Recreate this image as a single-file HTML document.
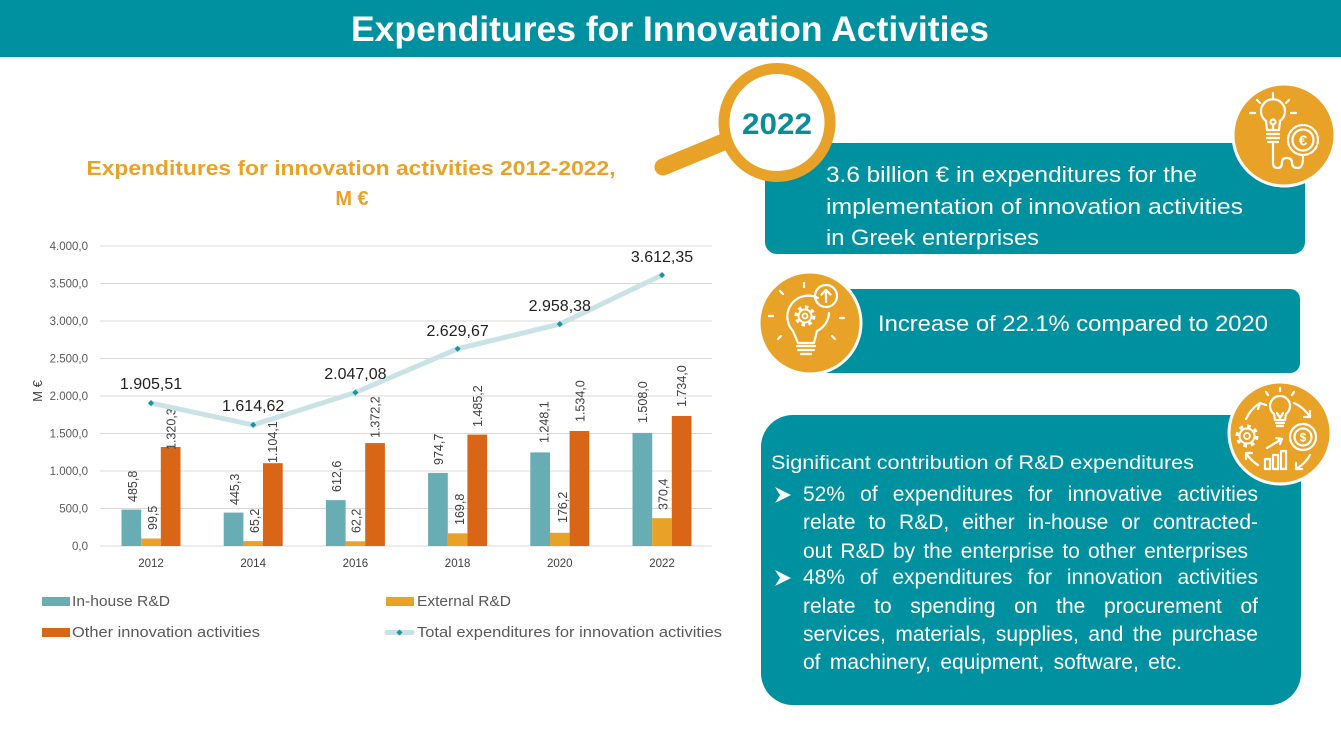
<!DOCTYPE html>
<html><head><meta charset="utf-8">
<style>
html,body{margin:0;padding:0;background:#fff;}
body{width:1341px;height:730px;position:relative;overflow:hidden;font-family:"Liberation Sans",sans-serif;}
svg{position:absolute;left:0;top:0;}
.j{position:absolute;left:803px;width:455px;font-size:21px;line-height:28px;height:28px;color:#fff;text-align:justify;text-align-last:justify;font-family:"Liberation Sans",sans-serif;white-space:normal;}
</style></head><body>
<svg width="1341" height="730" viewBox="0 0 1341 730" xmlns="http://www.w3.org/2000/svg" font-family="Liberation Sans, sans-serif">
<!-- header -->
<rect x="0" y="0" width="1341" height="57" fill="#0091A0"/>
<text x="670" y="41" fill="#fff" font-size="35" font-weight="bold" text-anchor="middle" textLength="638" lengthAdjust="spacingAndGlyphs">Expenditures for Innovation Activities</text>

<!-- chart title -->
<text x="351" y="175" fill="#E9A228" font-size="20" font-weight="bold" text-anchor="middle" textLength="529" lengthAdjust="spacingAndGlyphs">Expenditures for innovation activities 2012-2022,</text>
<text x="352" y="205" fill="#E9A228" font-size="20" font-weight="bold" text-anchor="middle">M €</text>

<!-- gridlines -->
<g stroke="#D9D9D9" stroke-width="1">
<line x1="100" x2="712" y1="546" y2="546"/>
<line x1="100" x2="712" y1="508.5" y2="508.5"/>
<line x1="100" x2="712" y1="471" y2="471"/>
<line x1="100" x2="712" y1="433.5" y2="433.5"/>
<line x1="100" x2="712" y1="396" y2="396"/>
<line x1="100" x2="712" y1="358.5" y2="358.5"/>
<line x1="100" x2="712" y1="321" y2="321"/>
<line x1="100" x2="712" y1="283.5" y2="283.5"/>
<line x1="100" x2="712" y1="246" y2="246"/>
</g>
<g fill="#595959" font-size="11.5" text-anchor="end">
<text x="88" y="550">0,0</text>
<text x="88" y="512.5">500,0</text>
<text x="88" y="475">1.000,0</text>
<text x="88" y="437.5">1.500,0</text>
<text x="88" y="400">2.000,0</text>
<text x="88" y="362.5">2.500,0</text>
<text x="88" y="325">3.000,0</text>
<text x="88" y="287.5">3.500,0</text>
<text x="88" y="250">4.000,0</text>
</g>
<text transform="translate(42,391) rotate(-90)" fill="#404040" font-size="13" text-anchor="middle">M €</text>
<g fill="#404040" font-size="11.5" text-anchor="middle">
<text x="151" y="567">2012</text>
<text x="253.2" y="567">2014</text>
<text x="355.4" y="567">2016</text>
<text x="457.6" y="567">2018</text>
<text x="559.8" y="567">2020</text>
<text x="662" y="567">2022</text>
</g>

<!-- bars -->
<g fill="#68ADB3">
<rect x="121.5" y="509.6" width="19.7" height="36.4"/>
<rect x="223.7" y="512.6" width="19.7" height="33.4"/>
<rect x="325.9" y="500.1" width="19.7" height="45.9"/>
<rect x="428.1" y="472.9" width="19.7" height="73.1"/>
<rect x="530.3" y="452.4" width="19.7" height="93.6"/>
<rect x="632.5" y="432.9" width="19.7" height="113.1"/>
</g>
<g fill="#E9A228">
<rect x="141.2" y="538.5" width="19.6" height="7.5"/>
<rect x="243.4" y="541.1" width="19.6" height="4.9"/>
<rect x="345.6" y="541.3" width="19.6" height="4.7"/>
<rect x="447.8" y="533.3" width="19.6" height="12.7"/>
<rect x="550" y="532.8" width="19.6" height="13.2"/>
<rect x="652.2" y="518.2" width="19.6" height="27.8"/>
</g>
<g fill="#D96516">
<rect x="160.8" y="447" width="19.7" height="99"/>
<rect x="263" y="463.2" width="19.7" height="82.8"/>
<rect x="365.2" y="443.1" width="19.7" height="102.9"/>
<rect x="467.4" y="434.6" width="19.7" height="111.4"/>
<rect x="569.6" y="431" width="19.7" height="115"/>
<rect x="671.8" y="416" width="19.7" height="130"/>
</g>

<!-- bar labels -->
<g fill="#404040" font-size="12.5">
<text transform="translate(137.2,502) rotate(-90)">485,8</text>
<text transform="translate(157.2,530) rotate(-90)">99,5</text>
<text transform="translate(175.5,450) rotate(-90)">1.320,3</text>
<text transform="translate(238.8,505) rotate(-90)">445,3</text>
<text transform="translate(258.8,533) rotate(-90)">65,2</text>
<text transform="translate(277.2,463) rotate(-90)">1.104,1</text>
<text transform="translate(341.2,492) rotate(-90)">612,6</text>
<text transform="translate(360.5,533) rotate(-90)">62,2</text>
<text transform="translate(379.5,438) rotate(-90)">1.372,2</text>
<text transform="translate(442.8,465) rotate(-90)">974,7</text>
<text transform="translate(463.8,525) rotate(-90)">169,8</text>
<text transform="translate(482.2,427) rotate(-90)">1.485,2</text>
<text transform="translate(548.5,443) rotate(-90)">1.248,1</text>
<text transform="translate(567.2,523) rotate(-90)">176,2</text>
<text transform="translate(584.5,422) rotate(-90)">1.534,0</text>
<text transform="translate(647.2,423) rotate(-90)">1.508,0</text>
<text transform="translate(667.5,510) rotate(-90)">370,4</text>
<text transform="translate(686.2,407) rotate(-90)">1.734,0</text>
</g>

<!-- total line -->
<polyline points="151,403.1 253.2,424.9 355.4,392.5 457.6,348.8 559.8,324.1 662,275.1" fill="none" stroke="#C9E2E5" stroke-width="5" stroke-linejoin="round" stroke-linecap="round"/>
<g fill="#1597A3">
<polygon points="151,400 154,403.1 151,406.2 148,403.1"/>
<polygon points="253.2,421.8 256.2,424.9 253.2,428 250.2,424.9"/>
<polygon points="355.4,389.4 358.4,392.5 355.4,395.6 352.4,392.5"/>
<polygon points="457.6,345.7 460.6,348.8 457.6,351.9 454.6,348.8"/>
<polygon points="559.8,321 562.8,324.1 559.8,327.2 556.8,324.1"/>
<polygon points="662,272 665,275.1 662,278.2 659,275.1"/>
</g>
<g fill="#1f1f1f" font-size="16" text-anchor="middle">
<text x="151" y="389">1.905,51</text>
<text x="253.2" y="411">1.614,62</text>
<text x="355.4" y="379">2.047,08</text>
<text x="457.6" y="336">2.629,67</text>
<text x="559.8" y="311">2.958,38</text>
<text x="662" y="262">3.612,35</text>
</g>

<!-- legend -->
<rect x="42" y="597" width="28" height="9" fill="#68ADB3"/>
<text x="72" y="606" fill="#595959" font-size="15" textLength="98" lengthAdjust="spacingAndGlyphs">In-house R&amp;D</text>
<rect x="386" y="597" width="28" height="9" fill="#E9A228"/>
<text x="417" y="606" fill="#595959" font-size="15" textLength="94" lengthAdjust="spacingAndGlyphs">External R&amp;D</text>
<rect x="42" y="628" width="28" height="9" fill="#D96516"/>
<text x="72" y="637" fill="#595959" font-size="15" textLength="188" lengthAdjust="spacingAndGlyphs">Other innovation activities</text>
<line x1="387" y1="632.5" x2="412" y2="632.5" stroke="#C9E2E5" stroke-width="5" stroke-linecap="round"/>
<polygon points="399.5,629.5 402.5,632.5 399.5,635.5 396.5,632.5" fill="#1597A3"/>
<text x="417" y="637" fill="#595959" font-size="15" textLength="305" lengthAdjust="spacingAndGlyphs">Total expenditures for innovation activities</text>

<!-- panel 1 -->
<rect x="765" y="143" width="540" height="111" rx="12" fill="#0091A0"/>
<g fill="#fff" font-size="22">
<text x="826" y="182" textLength="371" lengthAdjust="spacingAndGlyphs">3.6 billion € in expenditures for the</text>
<text x="826" y="214" textLength="417" lengthAdjust="spacingAndGlyphs">implementation of innovation activities</text>
<text x="826" y="245" textLength="213" lengthAdjust="spacingAndGlyphs">in Greek enterprises</text>
</g>

<!-- magnifier -->
<line x1="663" y1="167" x2="726" y2="141" stroke="#E9A228" stroke-width="17" stroke-linecap="round"/>
<ellipse cx="777" cy="122.5" rx="53" ry="54" fill="#fff" stroke="#E9A228" stroke-width="11"/>
<text x="777" y="134" fill="#0A8C99" font-size="30" font-weight="bold" text-anchor="middle" textLength="70" lengthAdjust="spacingAndGlyphs">2022</text>

<!-- icon 1 -->
<g transform="translate(1284,135)">
<circle r="51" fill="#E9A228" stroke="#fff" stroke-width="3"/>
<g stroke="#fff" stroke-width="2.2" fill="none" stroke-linecap="round" stroke-linejoin="round">
<path d="M-18,-14 A12,12 0 1 1 -4,-14 L-5,-5 L-17,-5 Z"/>
<path d="M-17,-1 H-5 M-17,3 H-5 M-16,7 H-6"/>
<circle cx="-11" cy="-13" r="2.5"/>
<path d="M-11,-10.5 V-5"/>
<path d="M-11,-37 V-42 M-24,-32 L-27,-35 M2,-32 L5,-35 M-29,-22 H-34 M7,-22 H12"/>
<path d="M-11,8 V28 Q-11,33 -6,33 Q-2,33 -2,27 Q-2,23 3,23 Q8,23 8,28 Q8,33 14,33 Q19,33 19,22"/>
<circle cx="19" cy="5" r="15" stroke-dasharray="4 2"/>
<circle cx="19" cy="5" r="10.5"/>
</g>
<text x="19" y="10.5" fill="#fff" font-size="15" font-weight="bold" text-anchor="middle">€</text>
</g>

<!-- panel 2 -->
<rect x="805" y="289" width="495" height="84" rx="10" fill="#0091A0"/>
<text x="878" y="331" fill="#fff" font-size="22" textLength="390" lengthAdjust="spacingAndGlyphs">Increase of 22.1% compared to 2020</text>

<!-- icon 2 -->
<g transform="translate(810,323)">
<circle r="51" fill="#E9A228" stroke="#fff" stroke-width="3"/>
<g stroke="#fff" stroke-width="2.2" fill="none" stroke-linecap="round" stroke-linejoin="round">
<path d="M-17,8 A21,21 0 0 1 8,-25"/>
<path d="M19,-10 A21,21 0 0 1 7,8"/>
<path d="M-17,8 L-12,20 H4 L7,8"/>
<path d="M-13,23 H5 M-12,27 H4 M-9,31 H1"/>
<circle cx="-5" cy="-7" r="9" stroke-width="3" stroke-dasharray="3.5 3.5" stroke-linecap="butt"/>
<circle cx="-5" cy="-7" r="6.5" stroke-width="2"/>
<circle cx="-5" cy="-7" r="2.5" stroke-width="1.8"/>
<circle cx="16" cy="-27" r="11"/>
<path d="M16,-21 V-33 M11.5,-28.5 L16,-33 L20.5,-28.5"/>
<path d="M-37,-7 H-41 M-27,-29 L-30,-32 M-6,-36 V-40 M-29,13 L-32,16 M30,-5 H34 M22,13 L25,16"/>
</g>
</g>

<!-- panel 3 -->
<rect x="761" y="415" width="540" height="290" rx="32" fill="#0091A0"/>
<text x="771" y="469" fill="#fff" font-size="19" textLength="423" lengthAdjust="spacingAndGlyphs">Significant contribution of R&amp;D expenditures</text>
<polygon points="775,487 791,495 775,503 780,495" fill="#fff"/>
<polygon points="775,570 791,578 775,586 780,578" fill="#fff"/>

<!-- icon 3 -->
<g transform="translate(1280,433)">
<circle r="51" fill="#E9A228" stroke="#fff" stroke-width="3"/>
<g stroke="#fff" stroke-width="2.2" fill="none" stroke-linecap="round" stroke-linejoin="round">
<path d="M-6,-19 A10,10 0 1 1 6,-19 L5,-13 H-5 Z"/>
<path d="M-4,-10 H4 M-3,-7 H3"/>
<path d="M-3,-20 L0,-15 L3,-20"/>
<path d="M0,-42 V-45 M-12,-38 L-14,-41 M12,-38 L14,-41"/>
<circle cx="-33" cy="3" r="10" stroke-width="3" stroke-dasharray="3.8 4" stroke-linecap="butt"/>
<circle cx="-33" cy="3" r="7.5" stroke-width="2"/>
<circle cx="-33" cy="3" r="3" stroke-width="1.8"/>
<circle cx="23" cy="4" r="13"/>
<circle cx="23" cy="4" r="8.5"/>
<rect x="-15" y="26" width="5" height="10"/>
<rect x="-7" y="22" width="5" height="14"/>
<rect x="1" y="18" width="5" height="18"/>
<path d="M-13,15 L2,6 M-4,5 L2,6 L0,11"/>
<path d="M-34,-14 A36,36 0 0 1 -20,-30 M-22,-24 L-20,-30 L-14,-28"/>
<path d="M14,-30 A36,36 0 0 1 30,-16 M30,-22 L30,-16 L24,-16"/>
<path d="M30,22 A36,36 0 0 1 16,36 M16,30 L16,36 L22,36"/>
<path d="M-22,32 A36,36 0 0 1 -34,20 M-34,26 L-34,20 L-28,20"/>
</g>
<text x="23" y="8.5" fill="#fff" font-size="12" font-weight="bold" text-anchor="middle">$</text>
</g>
</svg>

<div class="j" style="top:481px;">52% of expenditures for innovative activities</div>
<div class="j" style="top:509px;">relate to R&amp;D, either in-house or contracted-</div>
<div class="j" style="top:538px;width:445px;">out R&amp;D by the enterprise to other enterprises</div>
<div class="j" style="top:564px;">48% of expenditures for innovation activities</div>
<div class="j" style="top:593px;">relate to spending on the procurement of</div>
<div class="j" style="top:621px;">services, materials, supplies, and the purchase</div>
<div class="j" style="top:649px;width:379px;">of machinery, equipment, software, etc.</div>
</body></html>
